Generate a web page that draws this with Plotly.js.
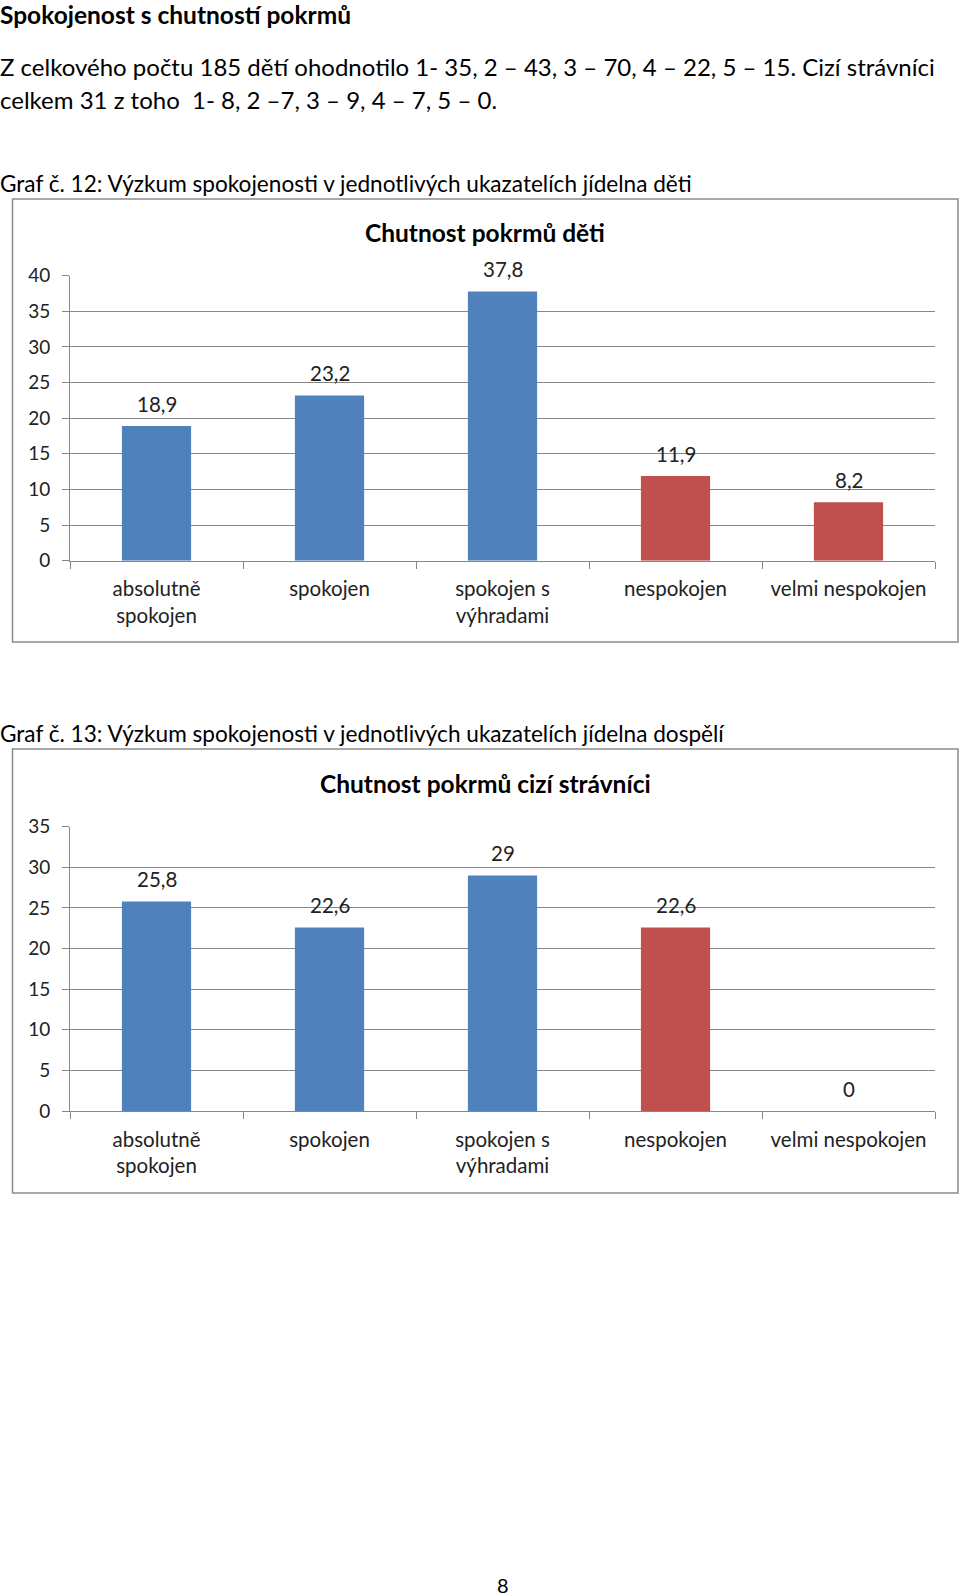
<!DOCTYPE html>
<html>
<head>
<meta charset="utf-8">
<script src="https://cdn.plot.ly/plotly-3.0.1.min.js"></script>
<style>
html,body{margin:0;padding:0;background:#fff;}
#chart{width:960px;height:1596px;}
</style>
</head>
<body>
<div id="chart"></div>
<script>
// ---- data ----
const categories = ['absolutně<br>spokojen', 'spokojen', 'spokojen s<br>výhradami', 'nespokojen', 'velmi nespokojen'];
const valuesDeti = [18.9, 23.2, 37.8, 11.9, 8.2];
const valuesCizi = [25.8, 22.6, 29, 22.6, 0];
const yTicksDeti = [0, 5, 10, 15, 20, 25, 30, 35, 40];
const yTicksCizi = [0, 5, 10, 15, 20, 25, 30, 35];
const titleDeti = 'Chutnost pokrmů děti';
const titleCizi = 'Chutnost pokrmů cizí strávníci';
const heading = 'Spokojenost s chutností pokrmů';
const bodyLine1 = 'Z celkového počtu 185 dětí ohodnotilo 1- 35, 2 – 43, 3 – 70, 4 – 22, 5 – 15. Cizí strávníci';
const bodyLine2 = 'celkem 31 z toho&nbsp; 1- 8, 2 –7, 3 – 9, 4 – 7, 5 – 0.';
const caption1 = 'Graf č. 12: Výzkum spokojenosti v jednotlivých ukazatelích jídelna děti';
const caption2 = 'Graf č. 13: Výzkum spokojenosti v jednotlivých ukazatelích jídelna dospělí';
const pageNumber = '8';

// ---- styles ----
const BLUE = '#4F81BD', RED = '#C0504D';
const barColors = [BLUE, BLUE, BLUE, RED, RED];
const FONT = 'Lato, "Open Sans", sans-serif';
const GRID = '#868686';
const W = 960, H = 1596;
const px = x => x / W;
const py = y => 1 - y / H;

function fmt(v) { return String(v).replace('.', ','); }

const traces = [
  {type: 'bar', x: categories, y: valuesDeti, xaxis: 'x', yaxis: 'y',
   marker: {color: barColors}, hoverinfo: 'none', showlegend: false},
  {type: 'bar', x: categories, y: valuesCizi, xaxis: 'x2', yaxis: 'y2',
   marker: {color: barColors}, hoverinfo: 'none', showlegend: false}
];

function xAxis(anchor) {
  return {
    domain: [px(70), px(935)], anchor: anchor, type: 'category',
    showline: true, linecolor: GRID, linewidth: 1,
    ticks: 'outside', tickson: 'boundaries', ticklen: 7, tickcolor: GRID, tickwidth: 1,
    showgrid: false, zeroline: false, fixedrange: true,
    tickfont: {family: FONT, size: 20.5, color: '#222'}, ticklabelstandoff: 10
  };
}
function yAxis(anchor, dom, ticks) {
  return {
    domain: dom, anchor: anchor, range: [0, ticks[ticks.length - 1]],
    tickvals: ticks, ticktext: ticks.map(String),
    showline: true, linecolor: GRID, linewidth: 1,
    ticks: 'outside', ticklen: 7, tickcolor: GRID, tickwidth: 1,
    showgrid: true, gridcolor: GRID, gridwidth: 1, zeroline: false, fixedrange: true,
    tickfont: {family: FONT, size: 19, color: '#222'}, ticklabelstandoff: 8
  };
}

const annotations = [];
function txt(x, y, text, size, opts) {
  annotations.push(Object.assign({
    xref: 'paper', yref: 'paper', x: px(x), y: py(y), text: text, showarrow: false,
    xanchor: 'left', yanchor: 'middle', font: {family: FONT, size: size, color: '#000'}
  }, opts || {}));
}
txt(-2, 14, '<b>' + heading + '</b>', 24.5);
txt(-2, 67, bodyLine1, 24);
txt(-2, 100, bodyLine2, 24);
txt(-2, 183, caption1, 22.6);
txt(-2, 733, caption2, 22.6);
txt(503, 1585, pageNumber, 20, {xanchor: 'center'});
txt(485, 233, '<b>' + titleDeti + '</b>', 24.5, {xanchor: 'center'});
txt(485, 783, '<b>' + titleCizi + '</b>', 24.5, {xanchor: 'center'});

function labels(vals, xr, yr) {
  vals.forEach((v, i) => {
    annotations.push({
      xref: xr, yref: yr, x: categories[i], y: v, text: fmt(v), showarrow: false,
      yanchor: 'middle', yshift: 22, font: {family: FONT, size: 20.5, color: '#222'}
    });
  });
}
labels(valuesDeti, 'x', 'y');
labels(valuesCizi, 'x2', 'y2');

const layout = {
  width: W, height: H, margin: {l: 0, r: 0, t: 0, b: 0},
  paper_bgcolor: '#fff', plot_bgcolor: 'rgba(0,0,0,0)',
  separators: ', ', bargap: 0.6, showlegend: false,
  xaxis: xAxis('y'), yaxis: yAxis('x', [py(560.7), py(275.7)], yTicksDeti),
  xaxis2: xAxis('y2'), yaxis2: yAxis('x2', [py(1111), py(826.7)], yTicksCizi),
  annotations: annotations,
  shapes: [
    {type: 'rect', xref: 'paper', yref: 'paper', x0: px(12.5), x1: px(958), y0: py(642), y1: py(199),
     line: {color: '#8c8c8c', width: 1.5}},
    {type: 'rect', xref: 'paper', yref: 'paper', x0: px(12.5), x1: px(958), y0: py(1193), y1: py(749),
     line: {color: '#8c8c8c', width: 1.5}}
  ]
};

Plotly.newPlot('chart', traces, layout, {staticPlot: true, displayModeBar: false});
</script>
</body>
</html>
